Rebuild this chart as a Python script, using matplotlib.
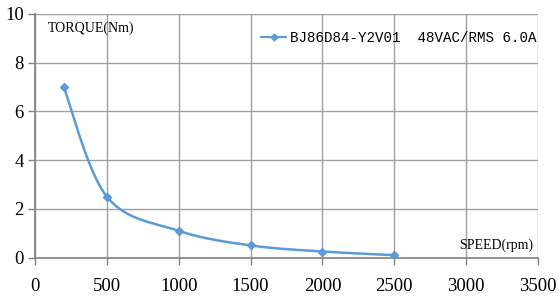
import numpy as np
import matplotlib
matplotlib.use("Agg")
import matplotlib.pyplot as plt
from matplotlib.lines import Line2D

speed = [200, 500, 1000, 1500, 2000, 2500]
torque = [7.0, 2.5, 1.1, 0.5, 0.25, 0.1]
series_label = "BJ86D84-Y2V01  48VAC/RMS 6.0A"
x_ticks = [0, 500, 1000, 1500, 2000, 2500, 3000, 3500]
y_ticks = [0, 2, 4, 6, 8, 10]

def smooth(xs, ys, n=40, t=1/6):
    xs = np.asarray(xs, float); ys = np.asarray(ys, float)
    P = np.column_stack([xs, ys])
    out = []
    for i in range(len(P) - 1):
        p0 = P[i - 1] if i > 0 else P[i]
        p1 = P[i]; p2 = P[i + 1]
        p3 = P[i + 2] if i + 2 < len(P) else P[i + 1]
        c1 = p1 + (p2 - p0) * t
        c2 = p2 - (p3 - p1) * t
        s = np.linspace(0, 1, n)[:, None]
        seg = (1 - s) ** 3 * p1 + 3 * (1 - s) ** 2 * s * c1 + 3 * (1 - s) * s ** 2 * c2 + s ** 3 * p2
        out.append(seg if i == 0 else seg[1:])
    c = np.vstack(out)
    return c[:, 0], c[:, 1]

fig = plt.figure(figsize=(5.59, 3.01), dpi=100)
ax = fig.add_axes([35/559, 1 - 257.6/301, (538-35)/559, (257.6-14)/301])

color = "#5B9BD5"
sx, sy = smooth(speed, torque)
ax.plot(sx, sy, color=color, lw=1.8, zorder=3)
ax.plot(speed, torque, ls="none", marker="D", ms=4, color=color, zorder=4)

ax.set_xlim(0, 3500)
ax.set_ylim(0, 10)
ax.set_xticks(x_ticks)
ax.set_yticks(y_ticks)
ax.grid(True, color="#A0A0A0", lw=1.0, zorder=0)
for s in ["top", "right"]:
    ax.spines[s].set_visible(False)
for s in ["left", "bottom"]:
    ax.spines[s].set_color("#808080")
    ax.spines[s].set_linewidth(1.2)
ax.tick_params(axis="both", colors="#808080", length=5, width=1, labelcolor="black",
               labelsize=13.5)
ax.tick_params(axis="x", pad=10)
ax.tick_params(axis="y", pad=3)
for lbl in ax.get_xticklabels() + ax.get_yticklabels():
    lbl.set_family("Liberation Serif")

ax.text((48-35)/503, (257.6-28)/243.6, "TORQUE(Nm)", transform=ax.transAxes,
        family="Liberation Serif", fontsize=10, va="center", ha="left")
ax.text((533-35)/503, (257.6-245)/243.6, "SPEED(rpm)", transform=ax.transAxes,
        family="Liberation Serif", fontsize=10, va="center", ha="right")

handle = Line2D([], [], color=color, lw=1.5, marker="D", ms=3.5)
leg = ax.legend([handle], [series_label], loc="center right",
                bbox_to_anchor=((537-35)/503, (257.6-38)/243.6),
                frameon=False, handlelength=1.7, handletextpad=0.35,
                borderaxespad=0, borderpad=0,
                prop={"family": "Liberation Mono", "size": 10.2})

fig.savefig("out.png", dpi=100)
